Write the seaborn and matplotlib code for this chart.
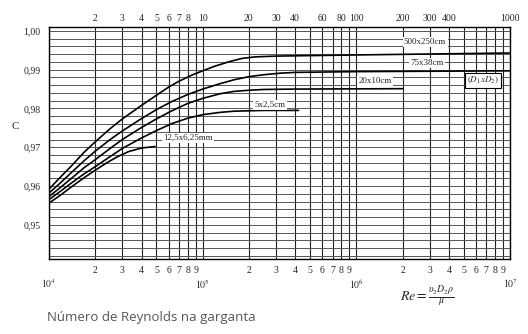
import pandas as pd
import seaborn as sns
import matplotlib.pyplot as plt
from matplotlib.ticker import MultipleLocator, NullFormatter

sns.set_style("white")
plt.rcParams['font.family'] = ['Liberation Serif', 'DejaVu Serif']
plt.rcParams['mathtext.fontset'] = 'stix'

# Curvas (Re na garganta, coeficiente C)
re_500 = [1e4, 1.2e4, 1.4e4, 1.7e4, 2e4, 2.5e4, 3e4, 4e4, 5e4, 6e4, 7e4, 8.5e4,
          1e5, 1.2e5, 1.5e5, 1.8e5, 2.2e5, 3e5, 1e6, 1e7]
c_500 = [0.9592, 0.9625, 0.9652, 0.9688, 0.9714, 0.9748, 0.9773, 0.9808, 0.9834,
         0.9855, 0.9870, 0.9886, 0.9897, 0.9909, 0.9921, 0.9929, 0.9933, 0.9935,
         0.9938, 0.9943]

re_75 = [1e4, 1.2e4, 1.4e4, 1.7e4, 2e4, 2.5e4, 3e4, 4e4, 5e4, 6.3e4, 8e4, 1e5,
         1.3e5, 1.6e5, 2e5, 2.5e5, 3.2e5, 4e5, 1e6, 1e7]
c_75 = [0.9582, 0.9610, 0.9635, 0.9666, 0.9690, 0.9720, 0.9742, 0.9774, 0.9797,
        0.9818, 0.9836, 0.9850, 0.9864, 0.9874, 0.9882, 0.9887, 0.9891, 0.9893,
        0.9895, 0.9897]

re_20 = [1e4, 1.2e4, 1.4e4, 1.7e4, 2e4, 2.5e4, 3e4, 4e4, 5e4, 6.3e4, 8e4, 1e5,
         1.3e5, 1.6e5, 2e5, 2.5e5, 4e5, 2e6]
c_20 = [0.9573, 0.9598, 0.9620, 0.9648, 0.9668, 0.9697, 0.9720, 0.9751, 0.9773,
        0.9794, 0.9813, 0.9826, 0.9838, 0.9844, 0.9847, 0.9849, 0.9850, 0.9851]

re_5 = [1e4, 1.2e4, 1.4e4, 1.7e4, 2e4, 2.5e4, 3e4, 4e4, 5e4, 6.3e4, 8e4, 1e5,
        1.3e5, 1.6e5, 2.5e5, 4.2e5]
c_5 = [0.9565, 0.9588, 0.9608, 0.9632, 0.9650, 0.9676, 0.9697, 0.9724, 0.9743,
       0.9761, 0.9775, 0.9784, 0.9790, 0.9793, 0.9795, 0.9795]

re_12 = [1e4, 1.2e4, 1.4e4, 1.7e4, 2e4, 2.4e4, 2.8e4, 3.3e4, 4e4, 4.9e4]
c_12 = [0.9556, 0.9578, 0.9598, 0.9622, 0.9641, 0.9661, 0.9676, 0.9689, 0.9698, 0.9702]

curves = [("500x250cm", re_500, c_500), ("75x38cm", re_75, c_75),
          ("20x10cm", re_20, c_20), ("5x2,5cm", re_5, c_5),
          ("12,5x6,25mm", re_12, c_12)]

# posicoes dos rotulos (Re, C)
label_pos = {"500x250cm": (2.8e6, 0.9971), "75x38cm": (2.9e6, 0.9917),
             "20x10cm": (1.32e6, 0.9871), "5x2,5cm": (2.75e5, 0.9809),
             "12,5x6,25mm": (8.0e4, 0.9724)}

top_ticks = [2, 3, 4, 5, 6, 7, 8, 10, 20, 30, 40, 60, 80, 100, 200, 300, 400, 1000]
y_ticks = [0.95, 0.96, 0.97, 0.98, 0.99, 1.00]

fig = plt.figure(figsize=(5.28, 3.34), dpi=100)
ax = fig.add_axes([49 / 528, 1 - 259 / 334, 461 / 528, 232 / 334])

for name, re, c in curves:
    df = pd.DataFrame({"Re": re, "C": c})
    sns.lineplot(data=df, x="Re", y="C", ax=ax, color="black", lw=1.2,
                 sort=False, estimator=None)

ax.set_xscale("log")
ax.set_xlim(1e4, 1e7)
ax.set_ylim(0.9412, 1.001)

# eixo inferior
ax.set_xticks([1e4, 1e5, 1e6, 1e7])
ax.set_xticklabels([r"$10^4$", r"$10^5$", r"$10^6$", r"$10^7$"])
minor = [m * 10 ** e for e in (4, 5, 6) for m in range(2, 10)]
ax.set_xticks(minor, minor=True)
ax.set_xticklabels([str(m) for e in (4, 5, 6) for m in range(2, 10)], minor=True)
ax.tick_params(axis="x", which="major", length=0, pad=13, labelsize=7)
ax.tick_params(axis="x", which="minor", length=0, pad=5, labelsize=7)

# eixo vertical
ax.set_yticks(y_ticks)
ax.set_yticklabels([f"{v:.2f}".replace(".", ",") for v in y_ticks])
ax.yaxis.set_minor_locator(MultipleLocator(0.002))
ax.yaxis.set_minor_formatter(NullFormatter())
ax.tick_params(axis="y", which="both", length=0, pad=6, labelsize=7)

ax.grid(which="both", axis="x", color="#222222", lw=0.8)
ax.grid(which="both", axis="y", color="#555555", lw=0.7)
ax.set_xlabel("")
ax.set_ylabel("")
for s in ax.spines.values():
    s.set_color("black")
    s.set_linewidth(1.0)

# eixo superior
ax2 = ax.twiny()
ax2.set_xscale("log")
ax2.set_xlim(1, 1000)
ax2.set_xticks(top_ticks)
ax2.set_xticklabels([str(t) for t in top_ticks])
ax2.xaxis.set_minor_formatter(NullFormatter())
ax2.tick_params(axis="x", which="both", length=0, pad=3, labelsize=7)
for s in ax2.spines.values():
    s.set_visible(False)

for name, (x, y) in label_pos.items():
    ax.text(x, y, name, ha="center", va="center", fontsize=6.5, zorder=5,
            bbox=dict(facecolor="white", edgecolor="none", pad=1.0))

ax.text(6.7e6, 0.9873, r"$(D_1 x D_2)$", ha="center", va="center", fontsize=6.5,
        zorder=5, bbox=dict(facecolor="white", edgecolor="black", lw=0.8, pad=1.5))

fig.text(15 / 528, 1 - 127 / 334, "C", fontsize=8, ha="center", va="center")
fig.text(427 / 528, 1 - 297 / 334, r"$Re = \frac{\upsilon_2 D_2 \rho}{\mu}$",
         fontsize=10, ha="center", va="center")
fig.text(47 / 528, 1 - 318 / 334, "Número de Reynolds na garganta",
         family="Open Sans", color="#555555", fontsize=9.5, va="center")

fig.savefig("out.png", dpi=100)
